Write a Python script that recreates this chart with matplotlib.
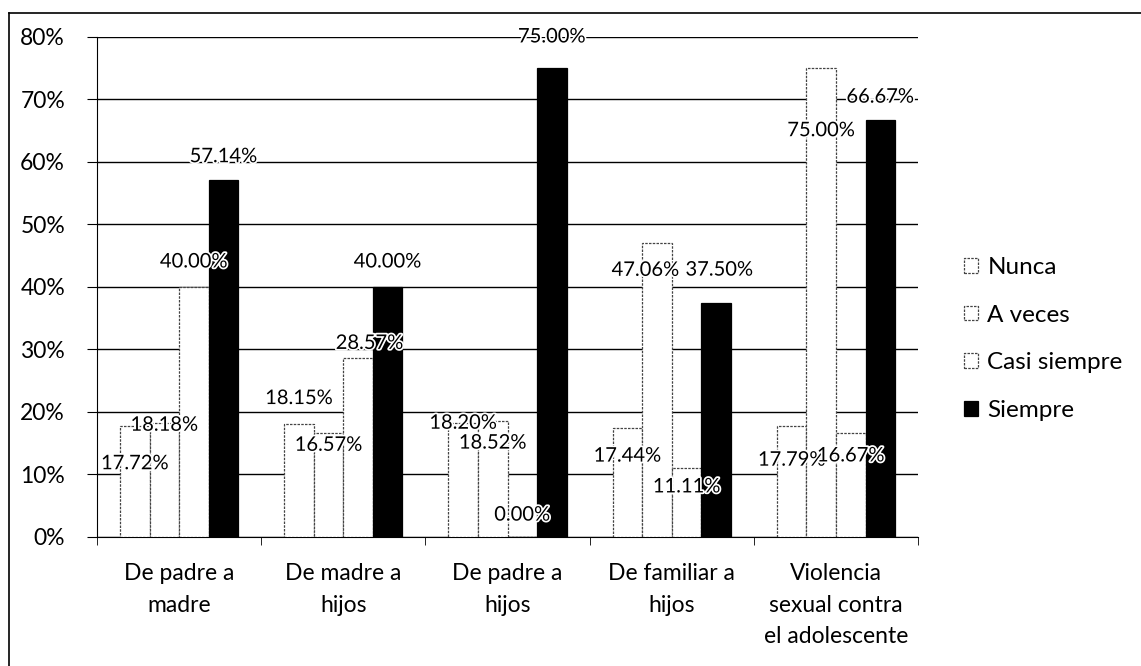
import matplotlib
matplotlib.use("Agg")
import matplotlib.pyplot as plt
import matplotlib.patheffects as pe
from matplotlib.lines import Line2D
import numpy as np

categories = ["De padre a\nmadre", "De madre a\nhijos", "De padre a\nhijos",
              "De familiar a\nhijos", "Violencia\nsexual contra\nel adolescente"]
series = ["Nunca", "A veces", "Casi siempre", "Siempre"]
nunca = [17.72, 18.15, 18.20, 17.44, 17.79]
a_veces = [18.18, 16.57, 18.52, 47.06, 75.00]
casi_siempre = [40.00, 28.57, 0.00, 11.11, 16.67]
siempre = [57.14, 40.00, 75.00, 37.50, 66.67]
yticks = [0, 10, 20, 30, 40, 50, 60, 70, 80]

# nudges of the data labels (layout only, in axis units)
label_dy = [[-6, 4, 0, -4.5, -5.5],
            [-0.3, -1.9, -3.5, -4.4, -10],
            [4, 2.4, 3.5, -3.1, -3.7],
            [3.7, 4, 5, 5.2, 3.7]]
label_dx = [[0, 0, 0, 0, 0],
            [0, 0, 0, -0.07, 0],
            [0, 0.07, 0, 0, 0],
            [0, 0, 0, 0.02, 0]]

values = [nunca, a_veces, casi_siempre, siempre]
faces = ["white", "white", "white", "black"]
edges = ["#444444", "#444444", "#444444", "black"]

plt.rcParams['font.family'] = ['Lato', 'DejaVu Sans']
fig = plt.figure(figsize=(11.41, 6.66), dpi=100)
# outer frame: only the left and top edges are visible in the reference
fig.add_artist(Line2D([0.008, 0.008], [0.0, 0.981], transform=fig.transFigure,
                      color="black", linewidth=1.2))
fig.add_artist(Line2D([0.008, 1.0], [0.981, 0.981], transform=fig.transFigure,
                      color="black", linewidth=1.2))
ax = fig.add_axes([0.085, 0.1937, 0.7196, 0.7508])

x = np.arange(len(categories))
w = 0.18
for i, (vals, fc, ec) in enumerate(zip(values, faces, edges)):
    pos = x + (i - 1.5) * w
    ax.bar(pos, vals, width=w, color=fc, edgecolor=ec,
           linewidth=0.9, linestyle=(0, (2, 1)) if fc == "white" else "-",
           label=series[i], zorder=3)
    for px, v, dy, dx in zip(pos, vals, label_dy[i], label_dx[i]):
        ax.text(px + dx, v + dy, f"{v:.2f}%", ha="center", va="center", fontsize=14.5,
                color="black", zorder=5,
                path_effects=[pe.withStroke(linewidth=2.5, foreground="white")])

ax.set_xlim(-0.5, len(categories) - 0.5)
ax.set_ylim(0, 80)
ax.set_yticks(yticks)
ax.set_yticklabels([f"{t}%" for t in yticks], fontsize=16.5)
ax.yaxis.grid(True, color="black", linewidth=1.0, zorder=0)
ax.set_axisbelow(True)

ax.set_xticks(x)
ax.set_xticklabels(categories, fontsize=16.5, linespacing=1.6)
ax.tick_params(axis="x", length=0, pad=19)
ax.set_xticks(np.arange(len(categories) + 1) - 0.5, minor=True)
ax.tick_params(axis="x", which="minor", length=6, color="black", direction="out")
ax.tick_params(axis="y", length=7, color="black", direction="out", pad=16)

for s in ["top", "right"]:
    ax.spines[s].set_visible(False)
ax.spines["left"].set_color("black")
ax.spines["bottom"].set_color("black")

leg = fig.legend(loc="center left", bbox_to_anchor=(0.826, 0.491), frameon=False,
                 fontsize=17.5, handlelength=0.55, handleheight=0.55, labelspacing=1.1,
                 handletextpad=0.4)

fig.savefig("out.png", dpi=100)
